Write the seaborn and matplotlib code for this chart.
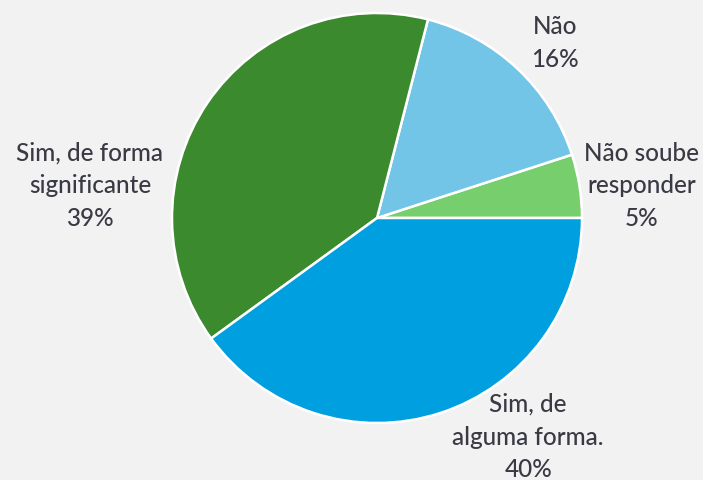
import matplotlib
matplotlib.use("Agg")
import matplotlib.pyplot as plt
import seaborn as sns
import numpy as np

categories = ["Não soube\nresponder", "Não", "Sim, de forma\nsignificante", "Sim, de\nalguma forma."]
values = [5, 16, 39, 40]
colors = ["#77CE6C", "#72C5E6", "#3C8A2E", "#009FDF"]

# label placement (angle in degrees, distance in radii) - layout only
label_angles = [6.9, 44.5, 173.6, -55.4]
label_dist = [1.302, 1.218, 1.409, 1.298]

sns.set_theme(style="white")
plt.rcParams["font.family"] = ["Lato", "DejaVu Sans"]

W, H = 703, 480
fig = plt.figure(figsize=(W / 100, H / 100), dpi=100)
fig.patch.set_facecolor("#F2F2F2")
ax = fig.add_axes([0, 0, 1, 1])
ax.set_facecolor("#F2F2F2")

cx, cy, R = 377, 218, 205
wedges, _ = ax.pie(values, colors=colors, startangle=0, counterclock=True,
                   wedgeprops=dict(edgecolor="white", linewidth=1.8))
ax.set_aspect("auto")
ax.set_xlim(-cx / R, (W - cx) / R)
ax.set_ylim(-(H - cy) / R, cy / R)
ax.axis("off")

for cat, v, a, d in zip(categories, values, label_angles, label_dist):
    t = np.deg2rad(a)
    ax.text(d * np.cos(t), d * np.sin(t), f"{cat}\n{v}%", ha="center", va="center",
            fontsize=17.5, color="#3A3A45", linespacing=1.5, fontweight="medium")

fig.savefig("out.png", dpi=100, facecolor=fig.get_facecolor())
